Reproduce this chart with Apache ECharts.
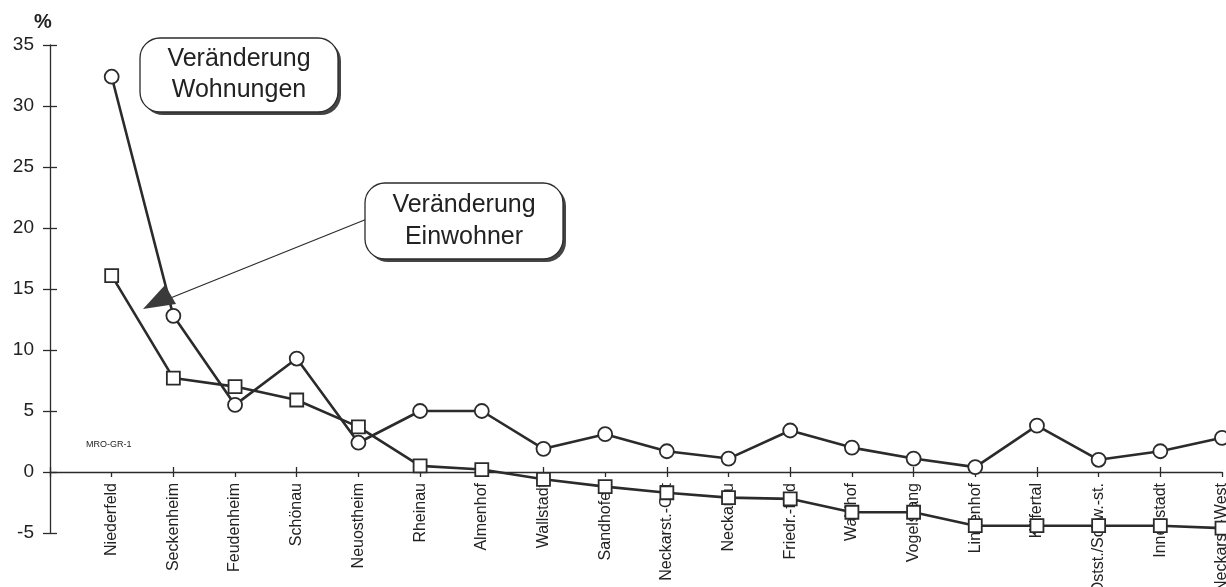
<!DOCTYPE html>
<html>
<head>
<meta charset="utf-8">
<script src="https://cdn.jsdelivr.net/npm/echarts@6/dist/echarts.min.js"></script>
<style>
html, body { margin: 0; padding: 0; background: #fff; }
#chart { width: 1226px; height: 587px; }
</style>
</head>
<body>
<div id="chart"></div>
<script>
// Stadtteile (erste Kategorie leer, damit Niederfeld nicht auf der y-Achse sitzt)
var districts = ['', 'Niederfeld', 'Seckenheim', 'Feudenheim', 'Schönau', 'Neuostheim', 'Rheinau',
    'Almenhof', 'Wallstadt', 'Sandhofen', 'Neckarst.-Ost', 'Neckarau', 'Friedr.-feld',
    'Waldhof', 'Vogelstang', 'Lindenhof', 'Käfertal', 'Ostst./Schw.-st.', 'Innenstadt', 'Neckarst.-West'];

// Veränderung Wohnungen (Kreise), in %
var wohnungen = ['-', 32.4, 12.8, 5.5, 9.3, 2.4, 5.0, 5.0, 1.9, 3.1, 1.7, 1.1, 3.4,
    2.0, 1.1, 0.4, 3.8, 1.0, 1.7, 2.8];

// Veränderung Einwohner (Quadrate), in %
var einwohner = ['-', 16.1, 7.7, 7.0, 5.9, 3.7, 0.5, 0.2, -0.6, -1.2, -1.7, -2.1, -2.2,
    -3.3, -3.3, -4.4, -4.4, -4.4, -4.4, -4.6];

var yTicks = { min: -5, max: 35, step: 5 };

var chart = echarts.init(document.getElementById('chart'));
var ink = '#2b2b2b';
var font = '"Liberation Sans", Arial, sans-serif';

option = {
    backgroundColor: '#fff',
    animation: false,
    grid: { left: 50, right: 4, top: 45, bottom: 54, containLabel: false, outerBoundsMode: 'none' },
    xAxis: [{
        type: 'category',
        position: 'bottom',
        data: districts,
        boundaryGap: false,
        axisLine: { onZero: true, lineStyle: { color: ink, width: 1.3 } },
        axisTick: { show: true, length: 5, lineStyle: { color: ink, width: 1.3 } },
        axisLabel: {
            // Beschriftung sitzt sonst am unteren Rand des Rasters, nicht an der Nulllinie
            rotate: 90, margin: -50, interval: 0,
            color: '#222', fontFamily: font, fontSize: 16
        },
        splitLine: { show: false }
    }, {
        // zweite Achse nur für die nach oben zeigenden Striche
        type: 'category',
        position: 'bottom',
        data: districts,
        boundaryGap: false,
        axisLine: { show: false, onZero: true },
        axisTick: { show: true, inside: true, length: 5, lineStyle: { color: ink, width: 1.3 } },
        axisLabel: { show: false },
        splitLine: { show: false }
    }],
    yAxis: [{
        type: 'value',
        position: 'left',
        min: yTicks.min, max: yTicks.max, interval: yTicks.step,
        axisLine: { show: true, onZero: false, lineStyle: { color: ink, width: 1.3 } },
        axisTick: { show: true, length: 7, lineStyle: { color: ink, width: 1.3 } },
        axisLabel: { margin: 16, color: '#222', fontFamily: font, fontSize: 19 },
        splitLine: { show: false }
    }, {
        type: 'value',
        position: 'left',
        offset: 0,
        min: yTicks.min, max: yTicks.max, interval: yTicks.step,
        axisLine: { show: false, onZero: false },
        axisTick: { show: true, inside: true, length: 7, lineStyle: { color: ink, width: 1.3 } },
        axisLabel: { show: false },
        splitLine: { show: false }
    }],
    series: [{
        name: 'Veränderung Einwohner',
        type: 'line',
        data: einwohner,
        symbol: 'rect',
        symbolSize: 13,
        lineStyle: { color: ink, width: 2.6 },
        itemStyle: { color: '#fff', borderColor: ink, borderWidth: 1.8 },
        z: 3
    }, {
        name: 'Veränderung Wohnungen',
        type: 'line',
        data: wohnungen,
        symbol: 'circle',
        symbolSize: 14,
        lineStyle: { color: ink, width: 2.6 },
        itemStyle: { color: '#fff', borderColor: ink, borderWidth: 1.8 },
        z: 4
    }],
    graphic: [
        { type: 'text', left: 34, top: 12, style: { text: '%', font: 'bold 20px ' + font, fill: '#222' } },
        { type: 'text', left: 86, top: 440, style: { text: 'MRO-GR-1', font: '9px ' + font, fill: '#222' } },
        // Kasten "Veränderung Wohnungen"
        { type: 'rect', shape: { x: 143, y: 41, width: 198, height: 74, r: 20 }, style: { fill: '#444' }, z: 10 },
        { type: 'rect', shape: { x: 140, y: 38, width: 198, height: 74, r: 20 }, style: { fill: '#fff', stroke: ink, lineWidth: 1.3 }, z: 11 },
        { type: 'text', x: 239, y: 75, style: { text: 'Veränderung\nWohnungen', font: '25px ' + font, fill: '#222', align: 'center', verticalAlign: 'middle', lineHeight: 31 }, z: 12 },
        // Kasten "Veränderung Einwohner" mit Zeiger
        { type: 'line', shape: { x1: 367, y1: 219, x2: 168, y2: 299 }, style: { stroke: ink, lineWidth: 1.2 }, z: 9 },
        { type: 'polygon', shape: { points: [[165, 285], [143, 309], [176, 304]] }, style: { fill: '#3a3a3a' }, z: 9 },
        { type: 'rect', shape: { x: 368, y: 186, width: 198, height: 76, r: 20 }, style: { fill: '#444' }, z: 10 },
        { type: 'rect', shape: { x: 365, y: 183, width: 198, height: 76, r: 20 }, style: { fill: '#fff', stroke: ink, lineWidth: 1.3 }, z: 11 },
        { type: 'text', x: 464, y: 221, style: { text: 'Veränderung\nEinwohner', font: '25px ' + font, fill: '#222', align: 'center', verticalAlign: 'middle', lineHeight: 32 }, z: 12 }
    ]
};

chart.setOption(option);
</script>
</body>
</html>
